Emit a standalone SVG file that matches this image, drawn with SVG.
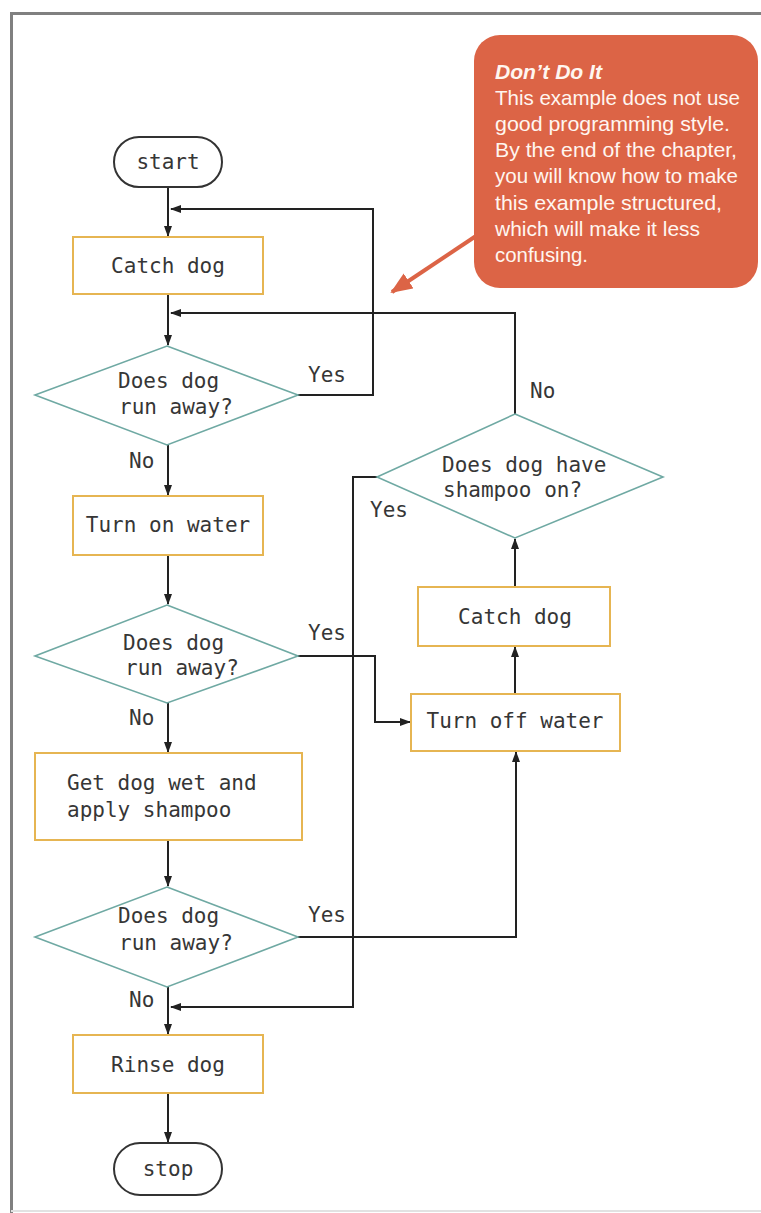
<svg xmlns="http://www.w3.org/2000/svg" width="761" height="1213" viewBox="0 0 761 1213">
  <defs>
    <marker id="arrow" markerUnits="userSpaceOnUse" markerWidth="11" markerHeight="8" refX="10" refY="4" orient="auto">
      <path d="M0,0 L11,4 L0,8 Z" fill="#222"/>
    </marker>
    <marker id="callout-arrow" markerUnits="userSpaceOnUse" markerWidth="22" markerHeight="18" refX="20" refY="9" orient="auto">
      <path d="M0,0 L22,9 L0,18 Z" fill="#dc6446"/>
    </marker>
    <style>
      .term { fill: #ffffff; stroke: #333333; stroke-width: 2; }
      .proc { fill: #ffffff; stroke: #e6b552; stroke-width: 2; }
      .dec { fill: #ffffff; stroke: #6fa9a3; stroke-width: 1.6; }
      .lbl { font-family: "DejaVu Sans Mono", "Liberation Mono", monospace; font-size: 21px; fill: #363636; }
      .mid { text-anchor: middle; }
      .edge { fill: none; stroke: #222; stroke-width: 2; }
      .note { font-family: "Liberation Sans", "Noto Sans", sans-serif; font-size: 21px; fill: #fff6f0; }
    </style>
  </defs>

  <rect x="0" y="0" width="761" height="1213" fill="#ffffff"/>

  <!-- outer frame -->
  <g id="frame">
    <path d="M11.5,1213 V13.5 H761" fill="none" stroke="#808080" stroke-width="3"/>
    <line x1="11" y1="1211" x2="761" y2="1211" stroke="#e2e2e2" stroke-width="2"/>
  </g>

  <!-- connectors -->
  <g id="connectors">
    <line class="edge" x1="168" y1="187" x2="168" y2="236" marker-end="url(#arrow)"/>
    <line class="edge" x1="168" y1="294" x2="168" y2="345" marker-end="url(#arrow)"/>
    <polyline class="edge" points="298,395 373,395 373,209 171,209" marker-end="url(#arrow)"/>
    <line class="edge" x1="168" y1="445" x2="168" y2="495" marker-end="url(#arrow)"/>
    <line class="edge" x1="168" y1="555" x2="168" y2="604" marker-end="url(#arrow)"/>
    <polyline class="edge" points="298,656 375,656 375,722 410,722" marker-end="url(#arrow)"/>
    <line class="edge" x1="168" y1="703" x2="168" y2="752" marker-end="url(#arrow)"/>
    <line class="edge" x1="168" y1="840" x2="168" y2="886" marker-end="url(#arrow)"/>
    <polyline class="edge" points="298,937 516,937 516,752" marker-end="url(#arrow)"/>
    <line class="edge" x1="168" y1="987" x2="168" y2="1034" marker-end="url(#arrow)"/>
    <line class="edge" x1="168" y1="1093" x2="168" y2="1142" marker-end="url(#arrow)"/>
    <line class="edge" x1="515" y1="694" x2="515" y2="647" marker-end="url(#arrow)"/>
    <line class="edge" x1="515" y1="587" x2="515" y2="539" marker-end="url(#arrow)"/>
    <polyline class="edge" points="515,414 515,313 171,313" marker-end="url(#arrow)"/>
    <polyline class="edge" points="377,477 353,477 353,1007 171,1007" marker-end="url(#arrow)"/>
  </g>

  <!-- edge labels -->
  <g id="edge-labels" class="lbl">
    <text x="308" y="382">Yes</text>
    <text x="129" y="468">No</text>
    <text x="308" y="640">Yes</text>
    <text x="129" y="725">No</text>
    <text x="308" y="922">Yes</text>
    <text x="129" y="1007">No</text>
    <text x="530" y="398">No</text>
    <text x="370" y="517">Yes</text>
  </g>

  <g id="start">
    <rect class="term" x="114" y="137" width="108" height="50" rx="25"/>
    <text class="lbl mid" x="168" y="169">start</text>
  </g>

  <g id="catch-dog">
    <rect class="proc" x="73" y="237" width="190" height="57"/>
    <text class="lbl mid" x="168" y="273">Catch dog</text>
  </g>

  <g id="runs-away-1">
    <polygon class="dec" points="167,346 298,395 167,445 35,395"/>
    <text class="lbl" x="118" y="388">Does dog</text>
    <text class="lbl" x="119" y="414">run away?</text>
  </g>

  <g id="turn-on-water">
    <rect class="proc" x="73" y="496" width="190" height="59"/>
    <text class="lbl mid" x="168" y="532">Turn on water</text>
  </g>

  <g id="runs-away-2">
    <polygon class="dec" points="167,605 298,656 167,703 35,656"/>
    <text class="lbl" x="123" y="650">Does dog</text>
    <text class="lbl" x="125" y="675">run away?</text>
  </g>

  <g id="wet-and-shampoo">
    <rect class="proc" x="35" y="753" width="267" height="87"/>
    <text class="lbl" x="67" y="790">Get dog wet and</text>
    <text class="lbl" x="67" y="817">apply shampoo</text>
  </g>

  <g id="runs-away-3">
    <polygon class="dec" points="167,887 298,937 167,987 35,937"/>
    <text class="lbl" x="118" y="923">Does dog</text>
    <text class="lbl" x="119" y="950">run away?</text>
  </g>

  <g id="rinse-dog">
    <rect class="proc" x="73" y="1035" width="190" height="58"/>
    <text class="lbl mid" x="168" y="1072">Rinse dog</text>
  </g>

  <g id="stop">
    <rect class="term" x="114" y="1143" width="108" height="52" rx="26"/>
    <text class="lbl mid" x="168" y="1176">stop</text>
  </g>

  <g id="turn-off-water">
    <rect class="proc" x="411" y="694" width="209" height="57"/>
    <text class="lbl mid" x="515" y="728">Turn off water</text>
  </g>

  <g id="catch-dog-again">
    <rect class="proc" x="418" y="587" width="192" height="59"/>
    <text class="lbl mid" x="515" y="624">Catch dog</text>
  </g>

  <g id="has-shampoo">
    <polygon class="dec" points="515,414 663,477 515,538 377,477"/>
    <text class="lbl" x="442" y="472">Does dog have</text>
    <text class="lbl" x="443" y="497">shampoo on?</text>
  </g>

  <!-- warning callout -->
  <g id="callout">
    <line x1="476" y1="236" x2="392" y2="292" stroke="#dc6446" stroke-width="4" marker-end="url(#callout-arrow)"/>
    <rect x="474" y="35" width="284" height="253" rx="26" fill="#dc6446"/>
    <text class="note" x="495" y="79" font-weight="bold" font-style="italic" textLength="107" lengthAdjust="spacingAndGlyphs">Don’t Do It</text>
    <text class="note" x="495" y="105" textLength="245" lengthAdjust="spacingAndGlyphs">This example does not use</text>
    <text class="note" x="495" y="131" textLength="235" lengthAdjust="spacingAndGlyphs">good programming style.</text>
    <text class="note" x="495" y="157" textLength="242" lengthAdjust="spacingAndGlyphs">By the end of the chapter,</text>
    <text class="note" x="495" y="183" textLength="243" lengthAdjust="spacingAndGlyphs">you will know how to make</text>
    <text class="note" x="495" y="210" textLength="227" lengthAdjust="spacingAndGlyphs">this example structured,</text>
    <text class="note" x="495" y="236" textLength="205" lengthAdjust="spacingAndGlyphs">which will make it less</text>
    <text class="note" x="495" y="262" textLength="93" lengthAdjust="spacingAndGlyphs">confusing.</text>
  </g>
</svg>
